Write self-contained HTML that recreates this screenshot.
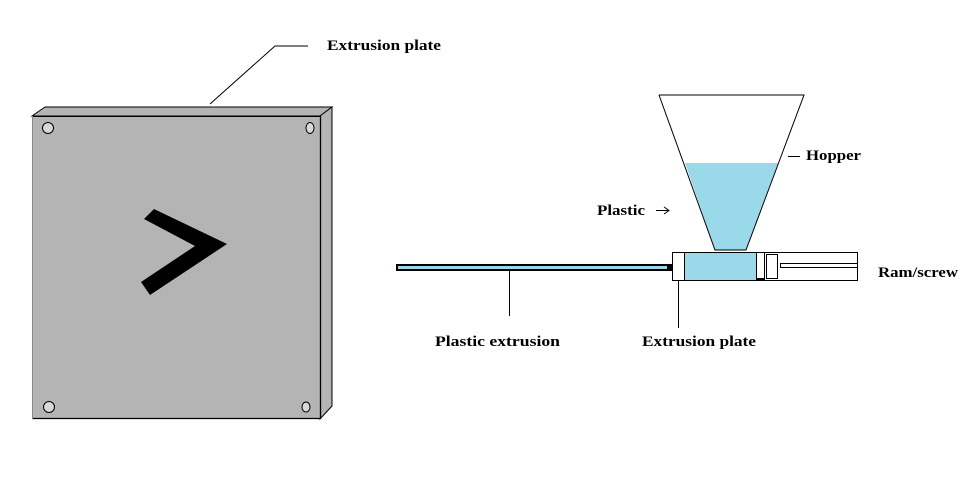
<!DOCTYPE html>
<html>
<head>
<meta charset="utf-8">
<style>
  html,body{margin:0;padding:0;background:#fff;}
  svg{display:block;}
  text{font-family:"Liberation Serif",serif;font-weight:bold;font-size:15px;fill:#000;}
</style>
</head>
<body>
<svg width="973" height="487" viewBox="0 0 973 487" xmlns="http://www.w3.org/2000/svg">
  <rect x="0" y="0" width="973" height="487" fill="#fff"/>

  <!-- Left plate -->
  <polygon points="32,116 45,107 332,107 320,116" fill="#b4b4b4" stroke="#000" stroke-width="1"/>
  <polygon points="320,116 332,107 332,406 320,419" fill="#b4b4b4" stroke="#000" stroke-width="1"/>
  <rect x="32" y="116" width="288" height="303" fill="#b4b4b4"/>
  <line x1="32" y1="116.5" x2="320" y2="116.5" stroke="#000" stroke-width="1"/>
  <line x1="32" y1="418.5" x2="320" y2="418.5" stroke="#000" stroke-width="1.3"/>
  <line x1="320.5" y1="116" x2="320.5" y2="419" stroke="#000" stroke-width="1.3"/>
  <line x1="32.5" y1="116" x2="32.5" y2="419" stroke="#8a8a8a" stroke-width="1"/>

  <!-- holes -->
  <ellipse cx="48" cy="128" rx="5.5" ry="5.5" fill="#d8d8d8" stroke="#000" stroke-width="1"/>
  <ellipse cx="310" cy="128" rx="4" ry="5.5" fill="#d8d8d8" stroke="#000" stroke-width="1"/>
  <ellipse cx="49" cy="407" rx="5.5" ry="5.5" fill="#d8d8d8" stroke="#000" stroke-width="1"/>
  <ellipse cx="306" cy="407" rx="4" ry="5" fill="#d8d8d8" stroke="#000" stroke-width="1"/>

  <!-- chevron -->
  <polygon points="154,209 227,244 150,295 141,282 195,246 144,219" fill="#000"/>

  <!-- leader for top label -->
  <polyline points="210,104 275,46 308,46" fill="none" stroke="#000" stroke-width="1"/>
  <text x="327" y="50" textLength="114" lengthAdjust="spacingAndGlyphs">Extrusion plate</text>

  <!-- Hopper -->
  <polygon points="685,163 778,163 746,250 715,250" fill="#99d9ea"/>
  <polyline points="659,95 804,95 746,250 715,250 659,95" fill="none" stroke="#000" stroke-width="1"/>
  <line x1="788" y1="156.5" x2="800" y2="156.5" stroke="#000" stroke-width="1"/>
  <text x="806" y="160" textLength="55" lengthAdjust="spacingAndGlyphs">Hopper</text>

  <text x="597" y="215" textLength="48" lengthAdjust="spacingAndGlyphs">Plastic</text>
  <line x1="656" y1="210.5" x2="669" y2="210.5" stroke="#000" stroke-width="1"/>
  <polyline points="664,207 669,210.5 664,214" fill="none" stroke="#000" stroke-width="1"/>

  <!-- Extrusion rod -->
  <rect x="397" y="265" width="274" height="5" fill="#99d9ea" stroke="#000" stroke-width="2"/>
  <rect x="667" y="264" width="6" height="7" fill="#000"/>

  <!-- Barrel -->
  <rect x="672.5" y="252.5" width="185" height="28" fill="#fff" stroke="#000" stroke-width="1"/>
  <rect x="684" y="253" width="72" height="27" fill="#99d9ea"/>
  <line x1="684.5" y1="252" x2="684.5" y2="281" stroke="#000" stroke-width="1"/>
  <line x1="756.5" y1="252" x2="756.5" y2="281" stroke="#000" stroke-width="1"/>
  <line x1="764.5" y1="252" x2="764.5" y2="281" stroke="#000" stroke-width="1"/>
  <rect x="756" y="278" width="9" height="3" fill="#000"/>
  <rect x="766.5" y="254.5" width="11" height="24" fill="#fff" stroke="#000" stroke-width="1"/>
  <rect x="780.5" y="263.5" width="77" height="4" fill="#fff" stroke="#000" stroke-width="1"/>

  <text x="878" y="277" textLength="80" lengthAdjust="spacingAndGlyphs">Ram/screw</text>

  <!-- leaders bottom -->
  <line x1="509.5" y1="271" x2="509.5" y2="316" stroke="#000" stroke-width="1"/>
  <text x="435" y="346" textLength="125" lengthAdjust="spacingAndGlyphs">Plastic extrusion</text>

  <line x1="678.5" y1="281" x2="678.5" y2="328" stroke="#000" stroke-width="1"/>
  <text x="642" y="346" textLength="114" lengthAdjust="spacingAndGlyphs">Extrusion plate</text>
</svg>
</body>
</html>
